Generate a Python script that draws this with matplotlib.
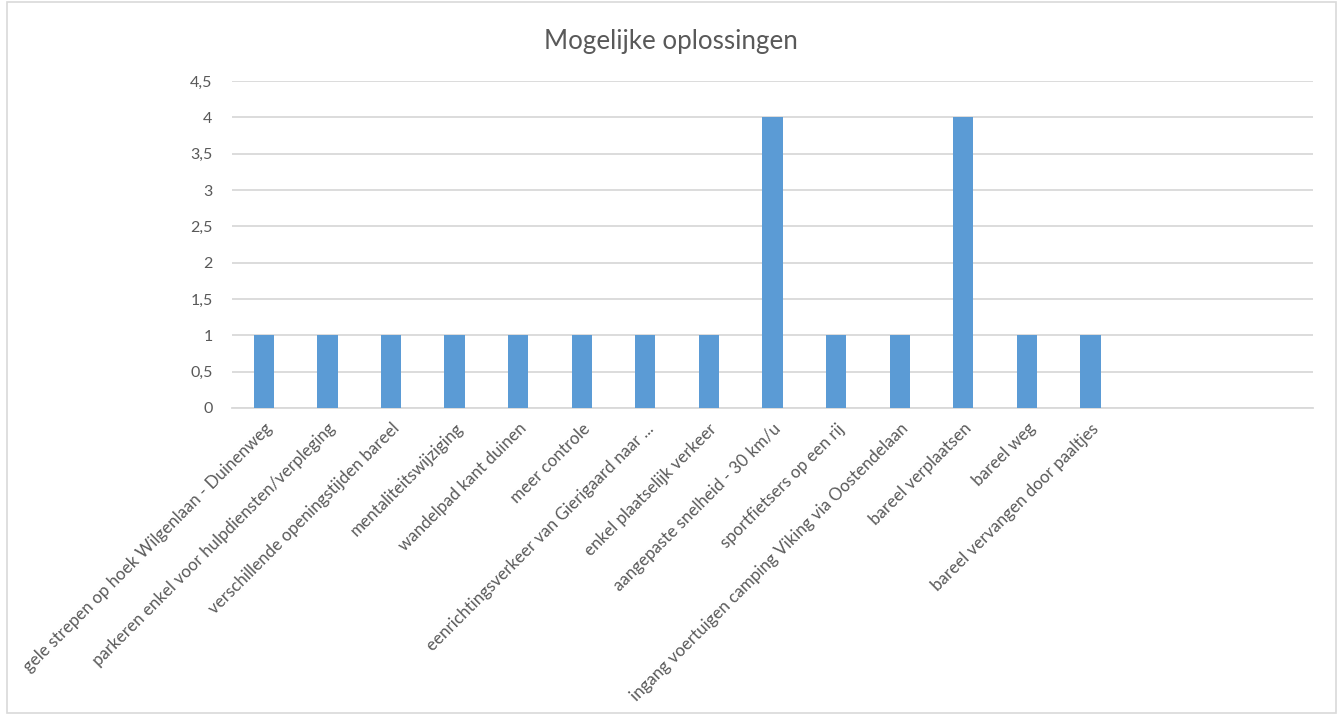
import matplotlib.pyplot as plt
from matplotlib.ticker import FuncFormatter, MultipleLocator
from matplotlib.patches import Rectangle

categories = [
    "gele strepen op hoek Wilgenlaan - Duinenweg",
    "parkeren enkel voor hulpdiensten/verpleging",
    "verschillende openingstijden bareel",
    "mentaliteitswijziging",
    "wandelpad kant duinen",
    "meer controle",
    "eenrichtingsverkeer van Gierigaard naar ...",
    "enkel plaatselijk verkeer",
    "aangepaste snelheid - 30 km/u",
    "sportfietsers op een rij",
    "ingang voertuigen camping Viking via Oostendelaan",
    "bareel verplaatsen",
    "bareel weg",
    "bareel vervangen door paaltjes",
]
values = [1, 1, 1, 1, 1, 1, 1, 1, 4, 1, 1, 4, 1, 1]
n_slots = 17  # Excel range had 3 empty rows at the end

plt.rcParams['font.family'] = ['Lato', 'DejaVu Sans']
text_col = '#595959'
grid_col = '#D9D9D9'

fig = plt.figure(figsize=(13.41, 7.15), dpi=100)
ax = fig.add_axes([232/1341, 1 - 408/715, (1313-232)/1341, (408-81)/715])

x = list(range(len(categories)))
ax.bar(x, values, width=0.32, color='#5B9BD5', zorder=3)

ax.set_xlim(-0.5, n_slots - 0.5)
ax.set_ylim(0, 4.5)
ax.yaxis.set_major_locator(MultipleLocator(0.5))
ax.yaxis.set_major_formatter(FuncFormatter(lambda v, p: ('%g' % v).replace('.', ',')))
ax.grid(axis='y', color=grid_col, linewidth=1.3, zorder=0)
for s in ['top', 'right', 'left']:
    ax.spines[s].set_visible(False)
ax.spines['bottom'].set_color(grid_col)
ax.spines['bottom'].set_linewidth(1.3)
ax.tick_params(axis='both', length=0, colors=text_col)
ax.tick_params(axis='y', pad=14, labelsize=11.5)
ax.tick_params(axis='x', pad=9, labelsize=12.2)

ax.set_xticks(x)
ax.set_xticklabels(categories, rotation=45, ha='right', rotation_mode='anchor')
for lbl in ax.get_xticklabels():
    lbl.set_color(text_col)

fig.text(0.5, 1 - 41/715, 'Mogelijke oplossingen', ha='center', va='center',
         fontsize=18.7, color=text_col)

fig.patches.append(Rectangle((7/1341, 2/715), (1336-7)/1341, (713-2)/715,
                             transform=fig.transFigure, fill=False,
                             edgecolor=grid_col, linewidth=1.2))

fig.savefig('out.png', dpi=100)
